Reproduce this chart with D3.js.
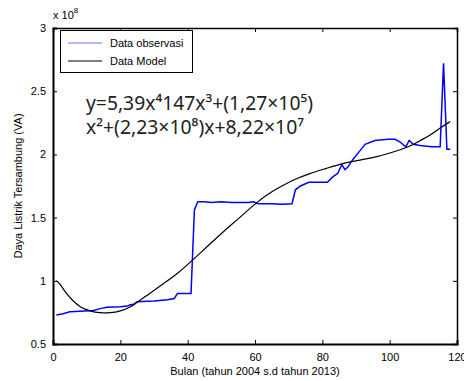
<!DOCTYPE html>
<html><head><meta charset="utf-8">
<script src="https://cdn.jsdelivr.net/npm/d3@7"></script>
<style>body{margin:0;background:#fff}svg{display:block}</style>
</head><body>
<script>
const obsMonth = [1,3,5,8,12,14,16,20,22,23,24,25,30,34,36,37,41,42,43,45,47,50,53,58,59.5,61,65,68,71,72,73.5,76,81.5,83,84.6,85.8,86.7,87.6,88.8,91.2,92.7,95.6,99.5,101.6,103,104.8,105.8,107,109,112.6,115,116,117,118];
const obsValue = [0.73,0.74,0.755,0.76,0.765,0.78,0.79,0.795,0.80,0.81,0.815,0.835,0.84,0.85,0.86,0.90,0.90,1.56,1.625,1.625,1.62,1.625,1.62,1.62,1.625,1.61,1.61,1.605,1.61,1.72,1.75,1.78,1.78,1.82,1.85,1.92,1.88,1.90,1.95,2.03,2.08,2.11,2.12,2.12,2.10,2.06,2.11,2.08,2.07,2.06,2.06,2.72,2.04,2.04];
const modelMonth = [1,2,3.6,5.6,8,11,14,17,20,23,26,28.8,31.8,36.8,41.3,46.6,51,55.5,60,64.5,71.3,76.3,81.3,86,91.2,96,100,106,109,112,115,118];
const modelValue = [1.0,0.98,0.91,0.85,0.79,0.76,0.745,0.745,0.76,0.79,0.85,0.90,0.96,1.05,1.16,1.29,1.40,1.50,1.61,1.70,1.80,1.85,1.89,1.93,1.955,1.98,2.01,2.06,2.11,2.15,2.21,2.26];
const xTicks = [0,20,40,60,80,100,120];
const yTicks = [0.5,1,1.5,2,2.5,3];
const legendLabels = ["Data observasi","Data Model"];
const seriesColors = ["#0000ff","#000000"];
const eqLine1 = "y=5,39x⁴147x³+(1,27×10⁵)";
const eqLine2 = "x²+(2,23×10⁸)x+8,22×10⁷";

const W=464,H=381, L=53,R=457,T=28,B=344;
const svg=d3.select("body").append("svg").attr("width",W).attr("height",H);
const x=d3.scaleLinear().domain([0,120]).range([L,R]);
const y=d3.scaleLinear().domain([0.5,3]).range([B,T]);
const font="Liberation Sans, Arial, sans-serif";

// lines
const line=d3.line().x((d)=>x(d[0])).y((d)=>y(d[1]));
svg.append("path").datum(obsMonth.map((m,i)=>[m,obsValue[i]]))
  .attr("d",line).attr("fill","none").attr("stroke",seriesColors[0]).attr("stroke-width",1.5);
svg.append("path").datum(modelMonth.map((m,i)=>[m,modelValue[i]]))
  .attr("d",d3.line().curve(d3.curveBasis).x((d)=>x(d[0])).y((d)=>y(d[1])))
  .attr("fill","none").attr("stroke",seriesColors[1]).attr("stroke-width",1.2);

// axes
const ax=(g)=>g.attr("font-family",font).attr("font-size",11);
svg.append("g").attr("transform",`translate(0,${B})`)
  .call(d3.axisBottom(x).tickValues(xTicks).tickSize(-4).tickPadding(9).tickFormat(d3.format("d")))
  .call(ax).call(g=>g.select(".domain").attr("stroke-width",2));
svg.append("g").attr("transform",`translate(${L},0)`)
  .call(d3.axisLeft(y).tickValues(yTicks).tickSize(-4).tickPadding(7).tickFormat((d)=>String(d)))
  .call(ax).call(g=>g.select(".domain").attr("stroke-width",2));
svg.append("g").attr("transform",`translate(0,${T})`)
  .call(d3.axisTop(x).tickValues(xTicks).tickSize(-4).tickFormat(""))
  .call(g=>g.select(".domain").attr("stroke-width",1.5));
svg.append("g").attr("transform",`translate(${R},0)`)
  .call(d3.axisRight(y).tickValues(yTicks).tickSize(-4).tickFormat(""))
  .call(g=>g.select(".domain").attr("stroke-width",1.5));
svg.selectAll(".tick text").attr("fill","#000");

// exponent
const ex=svg.append("text").attr("x",53).attr("y",19).attr("font-family",font).attr("font-size",11).text("x 10");
ex.append("tspan").attr("dy",-6).attr("font-size",8).text("8");

// labels
svg.append("text").attr("x",(L+R)/2).attr("y",375).attr("text-anchor","middle")
  .attr("font-family",font).attr("font-size",11).text("Bulan (tahun 2004 s.d tahun 2013)");
svg.append("text").attr("transform",`translate(22,${(T+B)/2}) rotate(-90)`).attr("text-anchor","middle")
  .attr("font-family",font).attr("font-size",11).text("Daya Listrik Tersambung (VA)");

// legend
svg.append("rect").attr("x",60.5).attr("y",30.5).attr("width",132).attr("height",42)
  .attr("fill","#fff").attr("stroke","#000").attr("stroke-width",1);
legendLabels.forEach((t,i)=>{
  const yy=43+i*18;
  svg.append("line").attr("x1",68).attr("x2",102).attr("y1",yy).attr("y2",yy)
    .attr("stroke",i==0?"#7070ff":"#000").attr("stroke-width",1.2);
  svg.append("text").attr("x",110).attr("y",yy+4).attr("font-family",font).attr("font-size",11).text(t);
});

// equation
const eq=svg.append("text").attr("font-family","Noto Sans, Open Sans, sans-serif").attr("font-size",19).attr("fill","#222");
eq.append("tspan").attr("x",86).attr("y",110).attr("textLength",227).attr("lengthAdjust","spacingAndGlyphs").text(eqLine1);
eq.append("tspan").attr("x",86).attr("y",134).attr("textLength",218).attr("lengthAdjust","spacingAndGlyphs").text(eqLine2);
</script>
</body></html>
